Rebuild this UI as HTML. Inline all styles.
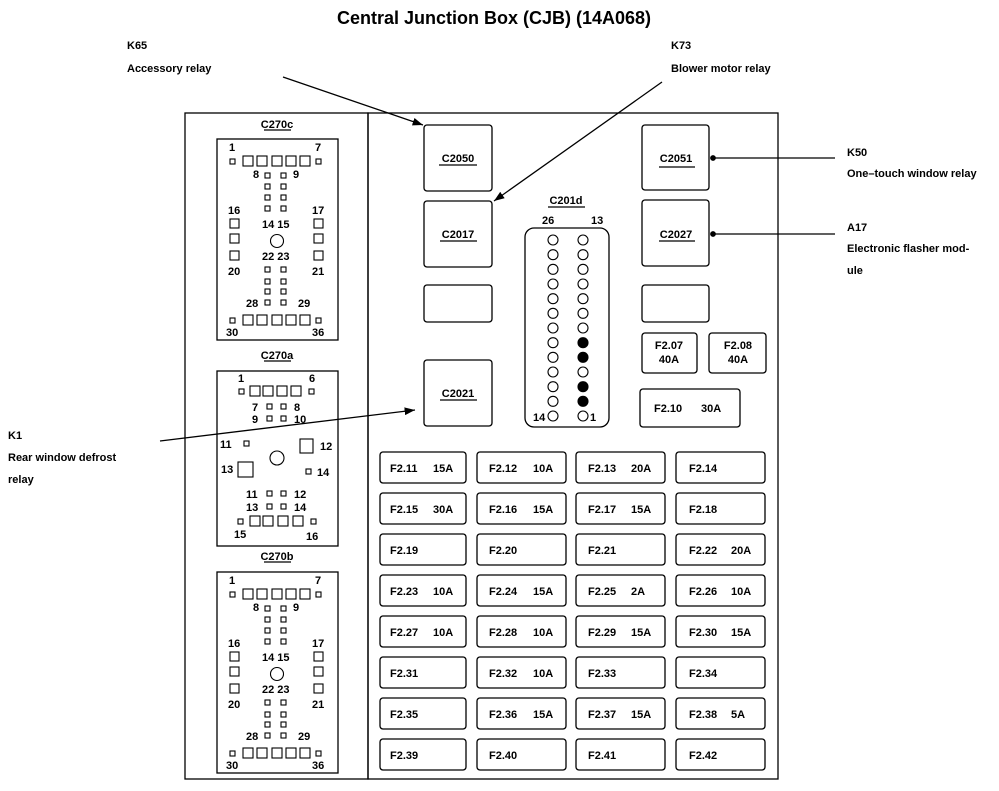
<!DOCTYPE html>
<html><head><meta charset="utf-8"><style>
html,body{margin:0;padding:0;background:#fff;}
svg{display:block;}
text{font-family:"Liberation Sans",sans-serif;font-weight:bold;font-size:11px;fill:#000;}
.t{font-size:18px;}
.f{font-size:11.5px;}
</style></head><body>
<svg width="999" height="791" viewBox="0 0 999 791" xmlns="http://www.w3.org/2000/svg">
<defs><marker id="ar" markerWidth="8" markerHeight="6" refX="8" refY="3" orient="auto"><path d="M0,0 L8,3 L0,6 z" fill="#000"/></marker>
<marker id="dot" markerWidth="6" markerHeight="6" refX="3" refY="3"><circle cx="3" cy="3" r="2.2" fill="#000"/></marker></defs>
<text class="t" x="494" y="24" text-anchor="middle">Central Junction Box (CJB) (14A068)</text>
<text x="127" y="49">K65</text><text x="127" y="72">Accessory relay</text>
<text x="671" y="49">K73</text><text x="671" y="72">Blower motor relay</text>
<text x="847" y="156">K50</text><text x="847" y="177">One–touch window relay</text>
<text x="847" y="231">A17</text><text x="847" y="252">Electronic flasher mod-</text><text x="847" y="274">ule</text>
<text x="8" y="439">K1</text><text x="8" y="461">Rear window defrost</text><text x="8" y="483">relay</text>
<g stroke="#000" stroke-width="1.3" fill="none">
<line x1="283" y1="77" x2="423" y2="125" marker-end="url(#ar)"/>
<line x1="662" y1="82" x2="494" y2="201" marker-end="url(#ar)"/>
<line x1="835" y1="158" x2="713" y2="158" marker-end="url(#dot)"/>
<line x1="835" y1="234" x2="713" y2="234" marker-end="url(#dot)"/>
<line x1="160" y1="441" x2="415" y2="410" marker-end="url(#ar)"/>
<rect x="185" y="113" width="183" height="666"/>
<rect x="368" y="113" width="410" height="666"/>
<rect x="217" y="139" width="121" height="201"/>
<rect x="217" y="371" width="121" height="175"/>
<rect x="217" y="572" width="121" height="201"/>
<rect x="424" y="125" width="68" height="66" rx="3"/>
<rect x="424" y="201" width="68" height="66" rx="3"/>
<rect x="424" y="285" width="68" height="37" rx="3"/>
<rect x="424" y="360" width="68" height="66" rx="3"/>
<rect x="642" y="125" width="67" height="65" rx="3"/>
<rect x="642" y="200" width="67" height="66" rx="3"/>
<rect x="642" y="285" width="67" height="37" rx="3"/>
<rect x="642" y="333" width="55" height="40" rx="3"/>
<rect x="709" y="333" width="57" height="40" rx="3"/>
<rect x="640" y="389" width="100" height="38" rx="3"/>
<rect x="525" y="228" width="84" height="199" rx="9"/>
</g>
<g stroke="#000" stroke-width="1.3">
<line x1="264" y1="130" x2="291" y2="130"/><line x1="264" y1="361" x2="291" y2="361"/>
<line x1="264" y1="562" x2="291" y2="562"/>
<line x1="439" y1="165" x2="477" y2="165"/><line x1="440" y1="241" x2="477" y2="241"/>
<line x1="440" y1="400" x2="477" y2="400"/><line x1="659" y1="167" x2="695" y2="167"/>
<line x1="659" y1="241" x2="695" y2="241"/><line x1="548" y1="207" x2="585" y2="207"/>
</g>
<text x="277" y="128" text-anchor="middle">C270c</text>
<text x="277" y="359" text-anchor="middle">C270a</text>
<text x="277" y="560" text-anchor="middle">C270b</text>
<text x="458" y="162" text-anchor="middle">C2050</text>
<text x="458" y="238" text-anchor="middle">C2017</text>
<text x="458" y="397" text-anchor="middle">C2021</text>
<text x="676" y="162" text-anchor="middle">C2051</text>
<text x="676" y="238" text-anchor="middle">C2027</text>
<text x="566" y="204" text-anchor="middle">C201d</text>
<text x="542" y="224">26</text><text x="591" y="224">13</text>
<text x="533" y="421">14</text><text x="590" y="421">1</text>
<text x="669" y="349" text-anchor="middle">F2.07</text><text x="669" y="363" text-anchor="middle">40A</text>
<text x="738" y="349" text-anchor="middle">F2.08</text><text x="738" y="363" text-anchor="middle">40A</text>
<text x="654" y="412">F2.10</text><text x="701" y="412">30A</text>
<g stroke="#000" stroke-width="1.1" fill="#fff">
<circle cx="553" cy="240" r="5"/><circle cx="553" cy="254.7" r="5"/><circle cx="553" cy="269.3" r="5"/><circle cx="553" cy="284" r="5"/><circle cx="553" cy="298.7" r="5"/><circle cx="553" cy="313.3" r="5"/><circle cx="553" cy="328" r="5"/><circle cx="553" cy="342.7" r="5"/><circle cx="553" cy="357.3" r="5"/><circle cx="553" cy="372" r="5"/><circle cx="553" cy="386.7" r="5"/><circle cx="553" cy="401.3" r="5"/><circle cx="553" cy="416" r="5"/>
<circle cx="583" cy="240" r="5"/><circle cx="583" cy="254.7" r="5"/><circle cx="583" cy="269.3" r="5"/><circle cx="583" cy="284" r="5"/><circle cx="583" cy="298.7" r="5"/><circle cx="583" cy="313.3" r="5"/><circle cx="583" cy="328" r="5"/><circle cx="583" cy="342.7" r="5" fill="#000"/><circle cx="583" cy="357.3" r="5" fill="#000"/><circle cx="583" cy="372" r="5"/><circle cx="583" cy="386.7" r="5" fill="#000"/><circle cx="583" cy="401.3" r="5" fill="#000"/><circle cx="583" cy="416" r="5"/>
</g>
<!-- C270c -->
<g id="c270c">
<text x="229" y="151">1</text><text x="315" y="151">7</text>
<text x="253" y="178">8</text><text x="293" y="178">9</text>
<text x="228" y="214">16</text><text x="312" y="214">17</text>
<text x="262" y="228">14 15</text>
<text x="262" y="260">22 23</text>
<text x="228" y="275">20</text><text x="312" y="275">21</text>
<text x="246" y="307">28</text><text x="298" y="307">29</text>
<text x="226" y="336">30</text><text x="312" y="336">36</text>
<g stroke="#000" stroke-width="1.1" fill="none">
<rect x="230" y="159" width="5" height="5"/><rect x="316" y="159" width="5" height="5"/>
<rect x="243" y="156" width="10" height="10"/><rect x="257" y="156" width="10" height="10"/><rect x="272" y="156" width="10" height="10"/><rect x="286" y="156" width="10" height="10"/><rect x="300" y="156" width="10" height="10"/>
<rect x="265" y="173" width="5" height="5"/><rect x="281" y="173" width="5" height="5"/>
<rect x="265" y="184" width="5" height="5"/><rect x="281" y="184" width="5" height="5"/>
<rect x="265" y="195" width="5" height="5"/><rect x="281" y="195" width="5" height="5"/>
<rect x="265" y="206" width="5" height="5"/><rect x="281" y="206" width="5" height="5"/>
<rect x="230" y="219" width="9" height="9"/><rect x="230" y="234" width="9" height="9"/><rect x="230" y="251" width="9" height="9"/>
<rect x="314" y="219" width="9" height="9"/><rect x="314" y="234" width="9" height="9"/><rect x="314" y="251" width="9" height="9"/>
<circle cx="277" cy="241" r="6.5"/>
<rect x="265" y="267" width="5" height="5"/><rect x="281" y="267" width="5" height="5"/>
<rect x="265" y="279" width="5" height="5"/><rect x="281" y="279" width="5" height="5"/>
<rect x="265" y="289" width="5" height="5"/><rect x="281" y="289" width="5" height="5"/>
<rect x="265" y="300" width="5" height="5"/><rect x="281" y="300" width="5" height="5"/>
<rect x="230" y="318" width="5" height="5"/><rect x="316" y="318" width="5" height="5"/>
<rect x="243" y="315" width="10" height="10"/><rect x="257" y="315" width="10" height="10"/><rect x="272" y="315" width="10" height="10"/><rect x="286" y="315" width="10" height="10"/><rect x="300" y="315" width="10" height="10"/>
</g></g>
<!-- C270b -->
<g transform="translate(0,433)">
<text x="229" y="151">1</text><text x="315" y="151">7</text>
<text x="253" y="178">8</text><text x="293" y="178">9</text>
<text x="228" y="214">16</text><text x="312" y="214">17</text>
<text x="262" y="228">14 15</text>
<text x="262" y="260">22 23</text>
<text x="228" y="275">20</text><text x="312" y="275">21</text>
<text x="246" y="307">28</text><text x="298" y="307">29</text>
<text x="226" y="336">30</text><text x="312" y="336">36</text>
<g stroke="#000" stroke-width="1.1" fill="none">
<rect x="230" y="159" width="5" height="5"/><rect x="316" y="159" width="5" height="5"/>
<rect x="243" y="156" width="10" height="10"/><rect x="257" y="156" width="10" height="10"/><rect x="272" y="156" width="10" height="10"/><rect x="286" y="156" width="10" height="10"/><rect x="300" y="156" width="10" height="10"/>
<rect x="265" y="173" width="5" height="5"/><rect x="281" y="173" width="5" height="5"/>
<rect x="265" y="184" width="5" height="5"/><rect x="281" y="184" width="5" height="5"/>
<rect x="265" y="195" width="5" height="5"/><rect x="281" y="195" width="5" height="5"/>
<rect x="265" y="206" width="5" height="5"/><rect x="281" y="206" width="5" height="5"/>
<rect x="230" y="219" width="9" height="9"/><rect x="230" y="234" width="9" height="9"/><rect x="230" y="251" width="9" height="9"/>
<rect x="314" y="219" width="9" height="9"/><rect x="314" y="234" width="9" height="9"/><rect x="314" y="251" width="9" height="9"/>
<circle cx="277" cy="241" r="6.5"/>
<rect x="265" y="267" width="5" height="5"/><rect x="281" y="267" width="5" height="5"/>
<rect x="265" y="279" width="5" height="5"/><rect x="281" y="279" width="5" height="5"/>
<rect x="265" y="289" width="5" height="5"/><rect x="281" y="289" width="5" height="5"/>
<rect x="265" y="300" width="5" height="5"/><rect x="281" y="300" width="5" height="5"/>
<rect x="230" y="318" width="5" height="5"/><rect x="316" y="318" width="5" height="5"/>
<rect x="243" y="315" width="10" height="10"/><rect x="257" y="315" width="10" height="10"/><rect x="272" y="315" width="10" height="10"/><rect x="286" y="315" width="10" height="10"/><rect x="300" y="315" width="10" height="10"/>
</g></g>
<!-- C270a -->
<text x="238" y="382">1</text><text x="309" y="382">6</text>
<text x="252" y="411">7</text><text x="294" y="411">8</text>
<text x="252" y="423">9</text><text x="294" y="423">10</text>
<text x="220" y="448">11</text><text x="320" y="450">12</text>
<text x="221" y="473">13</text><text x="317" y="476">14</text>
<text x="246" y="498">11</text><text x="294" y="498">12</text>
<text x="246" y="511">13</text><text x="294" y="511">14</text>
<text x="234" y="538">15</text><text x="306" y="540">16</text>
<g stroke="#000" stroke-width="1.1" fill="none">
<rect x="239" y="389" width="5" height="5"/><rect x="309" y="389" width="5" height="5"/>
<rect x="250" y="386" width="10" height="10"/><rect x="263" y="386" width="10" height="10"/><rect x="277" y="386" width="10" height="10"/><rect x="291" y="386" width="10" height="10"/>
<rect x="267" y="404" width="5" height="5"/><rect x="281" y="404" width="5" height="5"/>
<rect x="267" y="416" width="5" height="5"/><rect x="281" y="416" width="5" height="5"/>
<rect x="244" y="441" width="5" height="5"/>
<rect x="300" y="439" width="13" height="14"/>
<circle cx="277" cy="458" r="7"/>
<rect x="238" y="462" width="15" height="15"/>
<rect x="306" y="469" width="5" height="5"/>
<rect x="267" y="491" width="5" height="5"/><rect x="281" y="491" width="5" height="5"/>
<rect x="267" y="504" width="5" height="5"/><rect x="281" y="504" width="5" height="5"/>
<rect x="238" y="519" width="5" height="5"/><rect x="311" y="519" width="5" height="5"/>
<rect x="250" y="516" width="10" height="10"/><rect x="263" y="516" width="10" height="10"/><rect x="278" y="516" width="10" height="10"/><rect x="293" y="516" width="10" height="10"/>
</g>
<!-- fuses -->
<g stroke="#000" stroke-width="1.3" fill="none">
<rect x="380" y="452" width="86" height="31" rx="3"/><rect x="477" y="452" width="89" height="31" rx="3"/><rect x="576" y="452" width="89" height="31" rx="3"/><rect x="676" y="452" width="89" height="31" rx="3"/>
<rect x="380" y="493" width="86" height="31" rx="3"/><rect x="477" y="493" width="89" height="31" rx="3"/><rect x="576" y="493" width="89" height="31" rx="3"/><rect x="676" y="493" width="89" height="31" rx="3"/>
<rect x="380" y="534" width="86" height="31" rx="3"/><rect x="477" y="534" width="89" height="31" rx="3"/><rect x="576" y="534" width="89" height="31" rx="3"/><rect x="676" y="534" width="89" height="31" rx="3"/>
<rect x="380" y="575" width="86" height="31" rx="3"/><rect x="477" y="575" width="89" height="31" rx="3"/><rect x="576" y="575" width="89" height="31" rx="3"/><rect x="676" y="575" width="89" height="31" rx="3"/>
<rect x="380" y="616" width="86" height="31" rx="3"/><rect x="477" y="616" width="89" height="31" rx="3"/><rect x="576" y="616" width="89" height="31" rx="3"/><rect x="676" y="616" width="89" height="31" rx="3"/>
<rect x="380" y="657" width="86" height="31" rx="3"/><rect x="477" y="657" width="89" height="31" rx="3"/><rect x="576" y="657" width="89" height="31" rx="3"/><rect x="676" y="657" width="89" height="31" rx="3"/>
<rect x="380" y="698" width="86" height="31" rx="3"/><rect x="477" y="698" width="89" height="31" rx="3"/><rect x="576" y="698" width="89" height="31" rx="3"/><rect x="676" y="698" width="89" height="31" rx="3"/>
<rect x="380" y="739" width="86" height="31" rx="3"/><rect x="477" y="739" width="89" height="31" rx="3"/><rect x="576" y="739" width="89" height="31" rx="3"/><rect x="676" y="739" width="89" height="31" rx="3"/>
</g>
<g class="f">
<text x="390" y="472">F2.11</text><text x="433" y="472">15A</text><text x="489" y="472">F2.12</text><text x="533" y="472">10A</text><text x="588" y="472">F2.13</text><text x="631" y="472">20A</text><text x="689" y="472">F2.14</text>
<text x="390" y="513">F2.15</text><text x="433" y="513">30A</text><text x="489" y="513">F2.16</text><text x="533" y="513">15A</text><text x="588" y="513">F2.17</text><text x="631" y="513">15A</text><text x="689" y="513">F2.18</text>
<text x="390" y="554">F2.19</text><text x="489" y="554">F2.20</text><text x="588" y="554">F2.21</text><text x="689" y="554">F2.22</text><text x="731" y="554">20A</text>
<text x="390" y="595">F2.23</text><text x="433" y="595">10A</text><text x="489" y="595">F2.24</text><text x="533" y="595">15A</text><text x="588" y="595">F2.25</text><text x="631" y="595">2A</text><text x="689" y="595">F2.26</text><text x="731" y="595">10A</text>
<text x="390" y="636">F2.27</text><text x="433" y="636">10A</text><text x="489" y="636">F2.28</text><text x="533" y="636">10A</text><text x="588" y="636">F2.29</text><text x="631" y="636">15A</text><text x="689" y="636">F2.30</text><text x="731" y="636">15A</text>
<text x="390" y="677">F2.31</text><text x="489" y="677">F2.32</text><text x="533" y="677">10A</text><text x="588" y="677">F2.33</text><text x="689" y="677">F2.34</text>
<text x="390" y="718">F2.35</text><text x="489" y="718">F2.36</text><text x="533" y="718">15A</text><text x="588" y="718">F2.37</text><text x="631" y="718">15A</text><text x="689" y="718">F2.38</text><text x="731" y="718">5A</text>
<text x="390" y="759">F2.39</text><text x="489" y="759">F2.40</text><text x="588" y="759">F2.41</text><text x="689" y="759">F2.42</text>
</g>
</svg>
</body></html>
